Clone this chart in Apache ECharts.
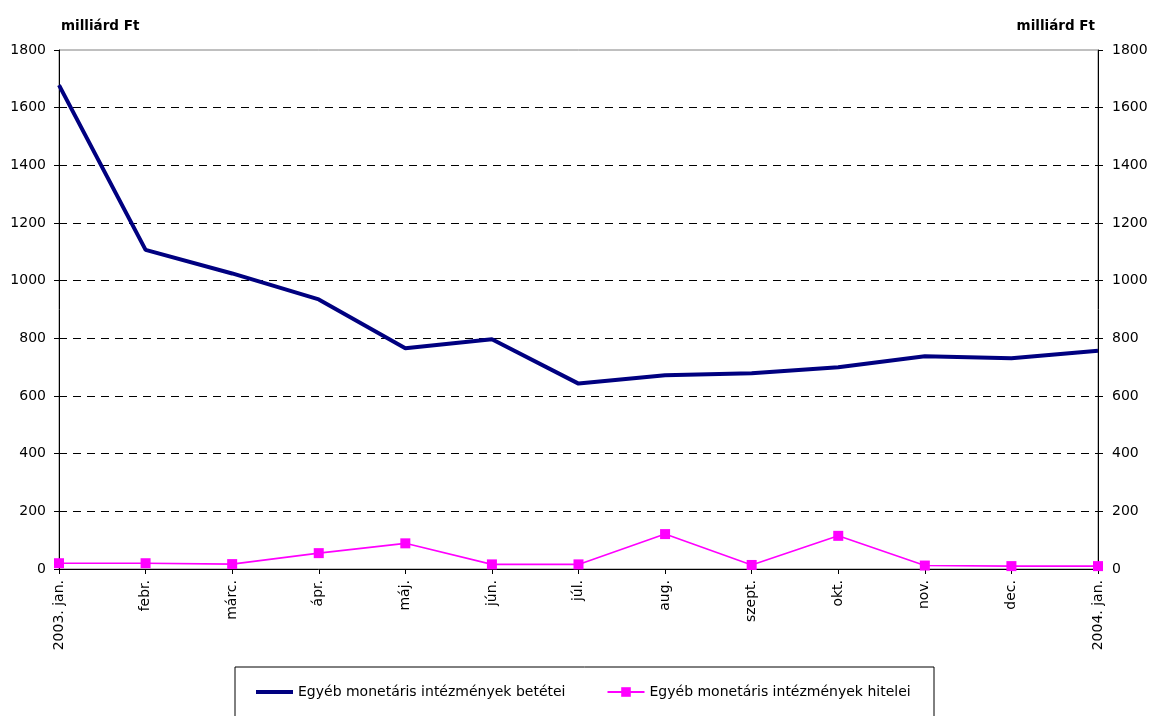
<!DOCTYPE html>
<html><head><meta charset="utf-8">
<script src="https://cdn.jsdelivr.net/npm/echarts@6/dist/echarts.min.js"></script>
<style>html,body{margin:0;padding:0;background:#fff}#c{width:1149px;height:716px}</style>
</head><body><div id="c"></div>
<script>
const categories = ['2003. jan.','febr.','márc.','ápr.','máj.','jún.','júl.','aug.','szept.','okt.','nov.','dec.','2004. jan.'];
const betetei = [1678, 1107, 1025, 935, 766, 797, 643, 672, 679, 700, 738, 731, 757];
const hitelei = [20, 20, 17, 55, 89, 16, 16, 121, 14, 115, 12, 10, 10];
const seriesNames = ['Egyéb monetáris intézmények betétei', 'Egyéb monetáris intézmények hitelei'];
const unitLabel = 'milliárd Ft';
const yTicks = {min: 0, max: 1800, interval: 200};

const font = 'DejaVu Sans, sans-serif';
const chart = echarts.init(document.getElementById('c'), null, {renderer: 'canvas'});
const yAxisBase = (pos) => ({
  type: 'value', position: pos, min: yTicks.min, max: yTicks.max, interval: yTicks.interval,
  name: unitLabel, nameLocation: 'end', nameGap: 17,
  nameTextStyle: {fontFamily: font, fontSize: 13.5, fontWeight: 'bold', color: '#000', align: pos === 'left' ? 'left' : 'right', padding: pos === 'left' ? [0,0,0,2] : [0,3,0,0]},
  axisLine: {show: true, lineStyle: {color: '#000', width: 1}},
  axisTick: {show: true, length: 5, lineStyle: {color: '#000'}},
  axisLabel: {fontFamily: font, fontSize: 14, color: '#000', margin: pos === 'left' ? 13 : 14, formatter: (v) => String(v)},
  splitLine: {show: pos === 'left', showMaxLine: false, showMinLine: false, lineStyle: {color: '#000', type: [8, 6], width: 1}}
});
chart.setOption({
  animation: false,
  backgroundColor: '#fff',
  grid: {left: 59, right: 51, top: 50, bottom: 147, containLabel: false, outerBoundsMode: 'none', show: true, borderColor: '#808080', borderWidth: 1},
  xAxis: {
    type: 'category', data: categories, boundaryGap: false,
    axisLine: {show: true, lineStyle: {color: '#000', width: 1}},
    axisTick: {show: true, length: 5, alignWithLabel: true, lineStyle: {color: '#000'}},
    axisLabel: {rotate: 90, fontFamily: font, fontSize: 14, color: '#000', margin: 11, interval: 0},
    splitLine: {show: false}
  },
  yAxis: [yAxisBase('left'), yAxisBase('right')],
  legend: {
    left: 249, top: 680, itemWidth: 37, itemHeight: 12, itemGap: 41,
    textStyle: {fontFamily: font, fontSize: 14, color: '#000'},
    data: [
      {name: seriesNames[0], itemStyle: {opacity: 0}, lineStyle: {width: 4, color: '#000080'}},
      {name: seriesNames[1], lineStyle: {width: 2, color: '#FF00FF'}}
    ]
  },
  graphic: [{type: 'rect', shape: {x: 235, y: 667, width: 699, height: 60}, style: {fill: 'none', stroke: '#000', lineWidth: 1}, silent: true}],
  series: [
    {name: seriesNames[0], type: 'line', data: betetei, yAxisIndex: 0, symbol: 'none', showSymbol: false,
     lineStyle: {color: '#000080', width: 4}, itemStyle: {color: '#000080'}, z: 3},
    {name: seriesNames[1], type: 'line', data: hitelei, yAxisIndex: 0, symbol: 'rect', symbolSize: 10,
     lineStyle: {color: '#FF00FF', width: 1.6}, itemStyle: {color: '#FF00FF'}, z: 4}
  ]
});
</script></body></html>
